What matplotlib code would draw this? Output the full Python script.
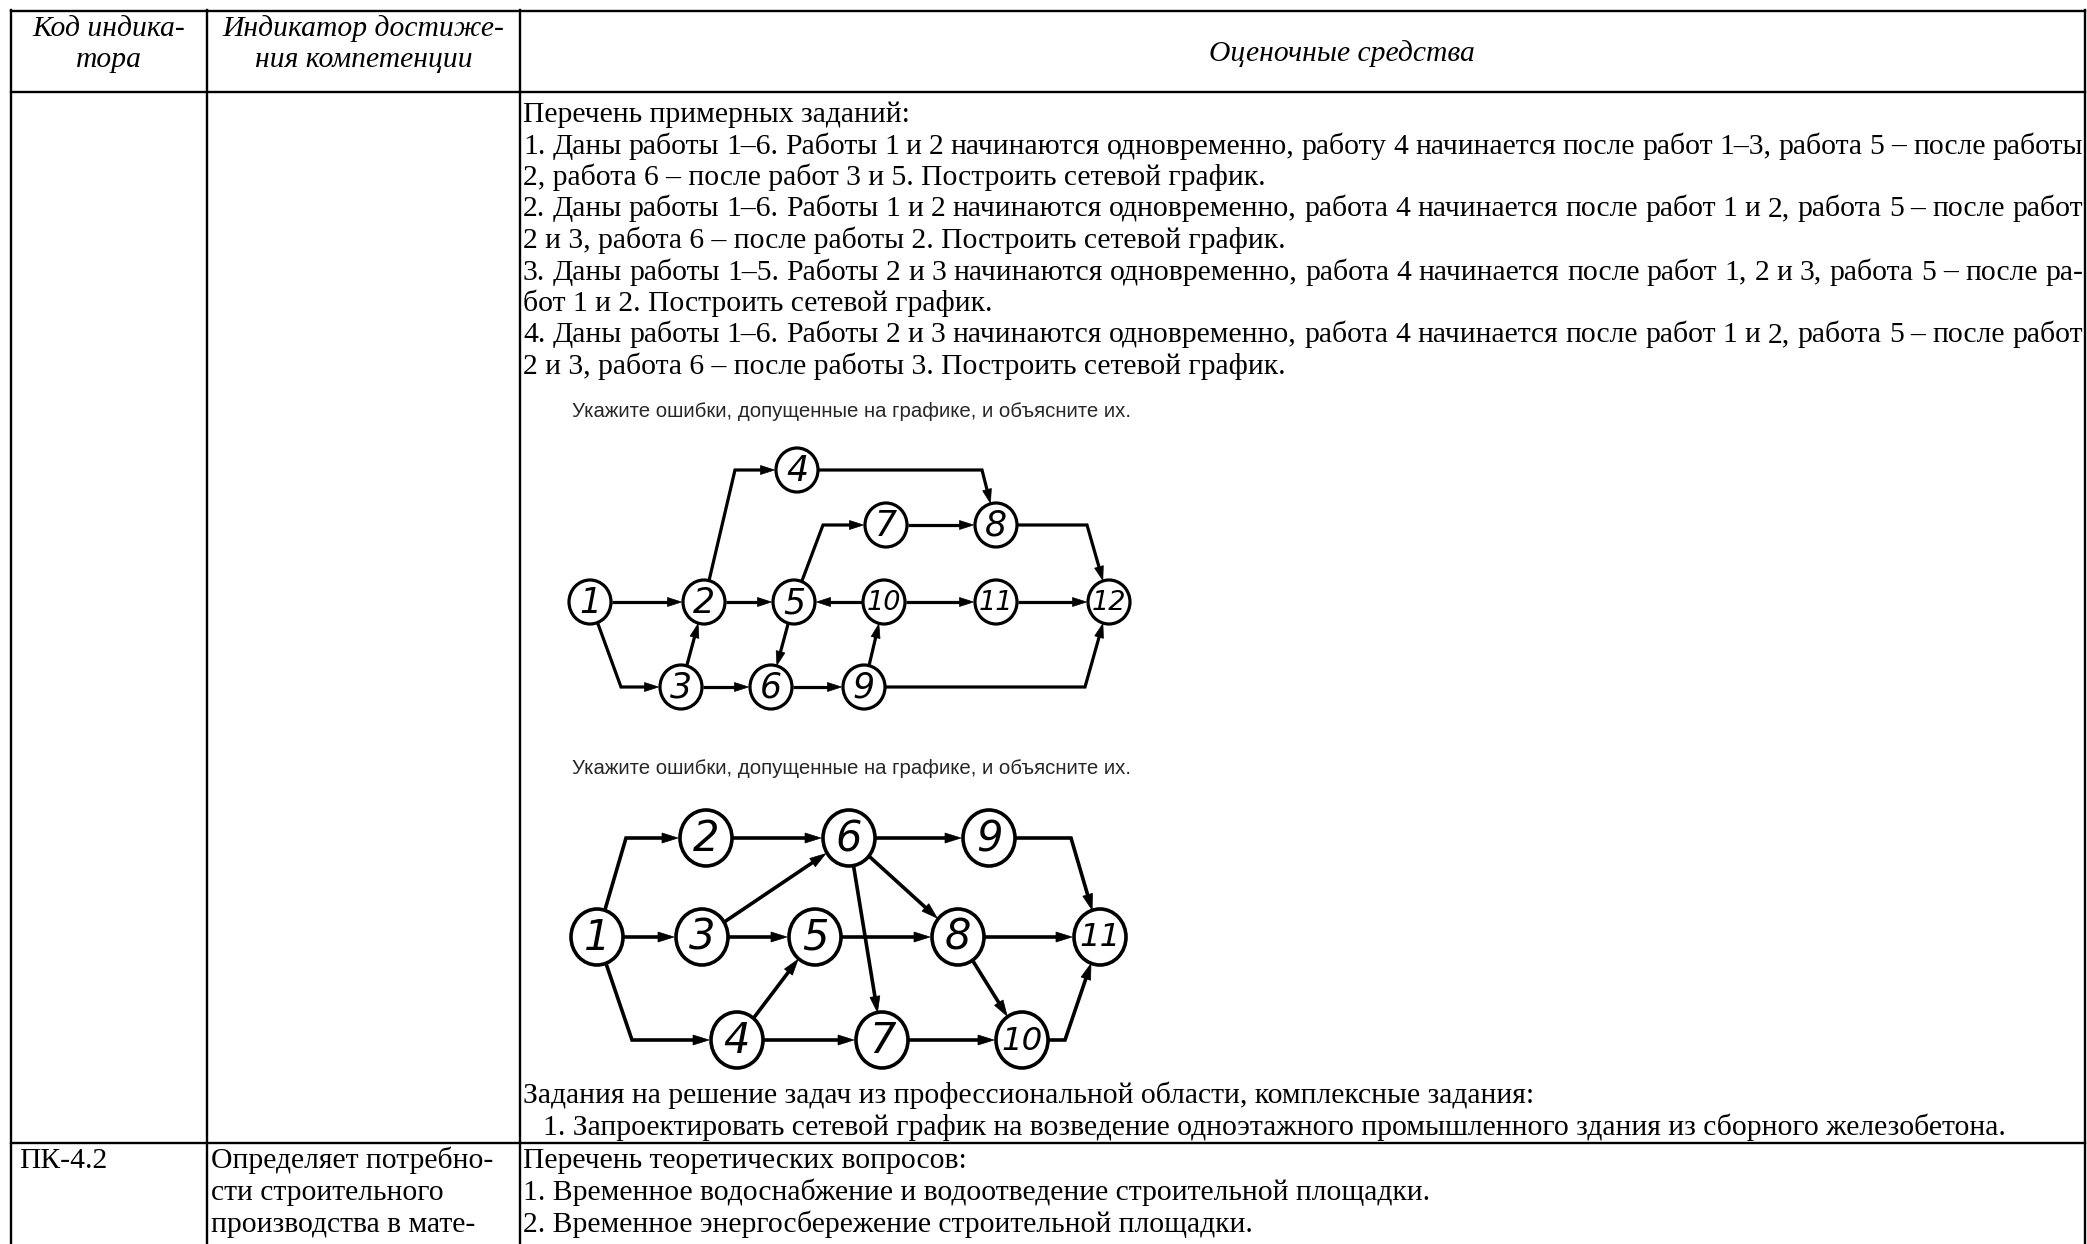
import numpy as np
import matplotlib.pyplot as plt
from matplotlib.patches import Ellipse, Polygon

W, H = 2087, 1244

# ---------------- table text ----------------
header_code = ["Код индика-", "тора"]
header_indicator = ["Индикатор достиже-", "ния компетенции"]
header_tools = "Оценочные средства"

task_lines = [
    "Перечень примерных заданий:",
    "1. Даны работы 1–6. Работы 1 и 2 начинаются одновременно, работу 4 начинается после работ 1–3, работа 5 – после работы",
    "2, работа 6 – после работ 3 и 5. Построить сетевой график.",
    "2. Даны работы 1–6. Работы 1 и 2 начинаются одновременно, работа 4 начинается после работ 1 и 2, работа 5 – после работ",
    "2 и 3, работа 6 – после работы 2. Построить сетевой график.",
    "3. Даны работы 1–5. Работы 2 и 3 начинаются одновременно, работа 4 начинается после работ 1, 2 и 3, работа 5 – после ра-",
    "бот 1 и 2. Построить сетевой график.",
    "4. Даны работы 1–6. Работы 2 и 3 начинаются одновременно, работа 4 начинается после работ 1 и 2, работа 5 – после работ",
    "2 и 3, работа 6 – после работы 3. Построить сетевой график.",
]
task_justified = [False, True, False, True, False, True, False, True, False]

caption = "Укажите ошибки, допущенные на графике, и объясните их."

complex_lines = [
    "Задания на решение задач из профессиональной области, комплексные задания:",
    "1. Запроектировать сетевой график на возведение одноэтажного промышленного здания из сборного железобетона.",
]

row2_code = "ПК-4.2"
row2_indicator = ["Определяет потребно-", "сти строительного", "производства в мате-"]
row2_tools = [
    "Перечень теоретических вопросов:",
    "1. Временное водоснабжение и водоотведение строительной площадки.",
    "2. Временное энергосбережение строительной площадки.",
]

# ---------------- network graph 1 ----------------
g1_nodes = ["1", "2", "3", "4", "5", "6", "7", "8", "9", "10", "11", "12"]
g1_x = [590, 704, 681, 797, 794, 771, 886, 996, 864, 884, 996, 1109]
g1_y = [602, 602, 687, 470, 602, 687, 525, 525, 687, 602, 602, 602]
g1_edges = [
    ("1", "2", []), ("1", "3", [(621, 687)]), ("3", "2", []),
    ("2", "4", [(735, 470)]), ("2", "5", []), ("4", "8", [(982, 470)]),
    ("5", "7", [(823, 525)]), ("7", "8", []), ("10", "5", []),
    ("5", "6", []), ("3", "6", []), ("6", "9", []), ("9", "10", []),
    ("10", "11", []), ("11", "12", []), ("8", "12", [(1087, 525)]),
    ("9", "12", [(1085, 687)]),
]

# ---------------- network graph 2 ----------------
g2_nodes = ["1", "2", "3", "4", "5", "6", "7", "8", "9", "10", "11"]
g2_x = [597, 706, 702, 737, 815, 849, 882, 958, 989, 1022, 1100]
g2_y = [937, 838, 937, 1040, 937, 838, 1040, 937, 838, 1040, 937]
g2_edges = [
    ("1", "2", [(626, 838)]), ("1", "3", []), ("1", "4", [(632, 1040)]),
    ("2", "6", []), ("3", "6", []), ("3", "5", []), ("4", "5", []),
    ("4", "7", []), ("6", "9", []), ("6", "8", []), ("6", "7", []),
    ("5", "8", []), ("8", "11", []), ("8", "10", []), ("7", "10", []),
    ("9", "11", [(1071, 838)]), ("10", "11", [(1065, 1040)]),
]

fig = plt.figure(figsize=(W / 100, H / 100), dpi=100)
ax = fig.add_axes([0, 0, 1, 1])
ax.set_xlim(0, W)
ax.set_ylim(H, 0)
ax.axis("off")
renderer = fig.canvas.get_renderer()

serif = dict(family="Liberation Serif", color="black")
sans = dict(family="Liberation Sans", color="#262626")


def text_width(s, size, **kw):
    t = ax.text(0, 0, s, fontsize=size, **kw)
    w = t.get_window_extent(renderer).width
    t.remove()
    return w


def fit_size(s, target, **kw):
    return 20 * target / text_width(s, 20, **kw)


fs = fit_size(complex_lines[1], 1462, **serif)
fs_cap = fit_size(caption, 559, **sans)


def put_line(x0, y, s, right=None, **kw):
    if right is None:
        ax.text(x0, y, s, ha="left", va="baseline", **kw)
        return
    words = s.split(" ")
    opts = {k: v for k, v in kw.items() if k != "fontsize"}
    widths = [text_width(w, kw["fontsize"], **opts) for w in words]
    gap = (right - x0 - sum(widths)) / (len(words) - 1)
    x = x0
    for w, wd in zip(words, widths):
        ax.text(x, y, w, ha="left", va="baseline", **kw)
        x += wd + gap


# table grid
col_x = [11, 207, 520, 2085]
row_y = [11, 92, 1143]
lw_tab = 1.7
for x in col_x:
    ax.plot([x, x], [10, H], color="black", lw=lw_tab, solid_capstyle="projecting")
for y in row_y:
    ax.plot([col_x[0], col_x[-1]], [y, y], color="black", lw=lw_tab, solid_capstyle="projecting")

# header
for i, s in enumerate(header_code):
    ax.text((col_x[0] + col_x[1]) / 2, 36 + 31 * i, s, ha="center", va="baseline",
            fontsize=fs, style="italic", **serif)
for i, s in enumerate(header_indicator):
    ax.text((col_x[1] + col_x[2]) / 2, 36 + 31 * i, s, ha="center", va="baseline",
            fontsize=fs, style="italic", **serif)
ax.text(1342, 61, header_tools, ha="center", va="baseline", fontsize=fs, style="italic", **serif)

# tasks
for i, (s, j) in enumerate(zip(task_lines, task_justified)):
    put_line(523, 122 + 31.5 * i, s, right=2083 if j else None, fontsize=fs, **serif)

ax.text(572, 417, caption, ha="left", va="baseline", fontsize=fs_cap, **sans)
ax.text(572, 774, caption, ha="left", va="baseline", fontsize=fs_cap, **sans)

put_line(523, 1103, complex_lines[0], fontsize=fs, **serif)
put_line(543, 1135, complex_lines[1], fontsize=fs, **serif)

# second row
ax.text(19, 1168, row2_code, ha="left", va="baseline", fontsize=fs, **serif)
for i, s in enumerate(row2_indicator):
    ax.text(211, 1168 + 32 * i, s, ha="left", va="baseline", fontsize=fs, **serif)
for i, s in enumerate(row2_tools):
    ax.text(523, 1168 + 32 * i, s, ha="left", va="baseline", fontsize=fs, **serif)


def draw_graph(nodes, xs, ys, edges, rx, ry, lw, head_len, head_w, num_size):
    pos = {n: np.array([x, y], float) for n, x, y in zip(nodes, xs, ys)}
    r = (rx + ry) / 2
    for a, b, corners in edges:
        pts = np.array([pos[a]] + [np.array(c, float) for c in corners] + [pos[b]])
        d0 = pts[1] - pts[0]
        pts[0] = pts[0] + d0 / np.linalg.norm(d0) * r
        d = pts[-1] - pts[-2]
        d = d / np.linalg.norm(d)
        tip = pts[-1] - d * (r + 1)
        base = tip - d * head_len
        pts[-1] = base + d * 2
        ax.plot(pts[:, 0], pts[:, 1], color="black", lw=lw,
                solid_joinstyle="miter", solid_capstyle="butt", zorder=2)
        perp = np.array([-d[1], d[0]])
        ax.add_patch(Polygon([tip, base + perp * head_w, base - perp * head_w],
                             closed=True, fc="black", ec="black", lw=0.5, zorder=2))
    for n in nodes:
        x, y = pos[n]
        ax.add_patch(Ellipse((x, y), 2 * rx, 2 * ry, fc="white", ec="black", lw=lw, zorder=3))
        size = num_size * (0.78 if len(n) > 1 else 1.0)
        ax.text(x, y + 1, n, ha="center", va="center", fontsize=size, style="italic",
                family="DejaVu Sans", color="black", zorder=4)


draw_graph(g1_nodes, g1_x, g1_y, g1_edges, 21, 22, 2.3, 14, 4.5, 25)
draw_graph(g2_nodes, g2_x, g2_y, g2_edges, 26, 28, 2.6, 16, 5, 30)

fig.savefig("out.png", dpi=100, facecolor="white")
